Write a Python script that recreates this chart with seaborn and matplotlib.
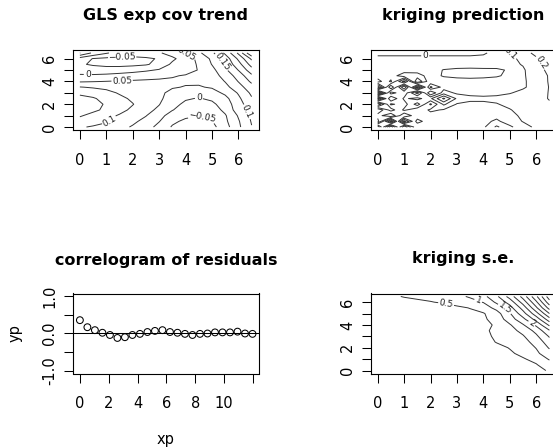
import numpy as np
import matplotlib
matplotlib.use("Agg")
import matplotlib.pyplot as plt
import seaborn as sns
import pandas as pd

# ---------------- data ----------------
grid = [0, 0.5, 1, 1.5, 2, 2.5, 3, 3.5, 4, 4.5, 5, 5.5, 6, 6.5]

# GLS exp cov trend surface, rows = y (0 .. 6.5), cols = x (0 .. 6.5)
gls_trend = [
    [0.105, 0.095, 0.085, 0.065, 0.045, 0.02, -0.015, -0.055, -0.075, -0.08, -0.065, -0.02, 0.04, 0.098],
    [0.13, 0.12, 0.105, 0.085, 0.06, 0.035, 0.002, -0.04, -0.06, -0.065, -0.052, -0.01, 0.045, 0.104],
    [0.155, 0.135, 0.115, 0.095, 0.075, 0.052, 0.015, -0.02, -0.04, -0.048, -0.04, -0.005, 0.055, 0.11],
    [0.17, 0.16, 0.14, 0.115, 0.09, 0.065, 0.04, 0.002, -0.02, -0.03, -0.025, 0.012, 0.075, 0.12],
    [0.175, 0.165, 0.145, 0.12, 0.102, 0.075, 0.052, 0.015, -0.01, -0.015, -0.01, 0.022, 0.08, 0.13],
    [0.165, 0.155, 0.135, 0.112, 0.092, 0.075, 0.058, 0.03, 0.005, -0.003, 0.008, 0.035, 0.09, 0.145],
    [0.14, 0.13, 0.115, 0.095, 0.08, 0.068, 0.058, 0.04, 0.025, 0.02, 0.03, 0.06, 0.105, 0.16],
    [0.102, 0.095, 0.088, 0.08, 0.072, 0.065, 0.058, 0.053, 0.048, 0.046, 0.055, 0.085, 0.13, 0.18],
    [0.045, 0.048, 0.051, 0.054, 0.056, 0.057, 0.057, 0.056, 0.055, 0.058, 0.068, 0.102, 0.152, 0.21],
    [0.008, 0.008, 0.012, 0.018, 0.025, 0.033, 0.04, 0.047, 0.053, 0.06, 0.075, 0.12, 0.17, 0.24],
    [-0.025, -0.03, -0.03, -0.025, -0.018, -0.008, 0.005, 0.02, 0.035, 0.052, 0.085, 0.14, 0.202, 0.28],
    [-0.045, -0.055, -0.062, -0.065, -0.062, -0.055, -0.035, 0.01, 0.03, 0.055, 0.102, 0.16, 0.23, 0.32],
    [-0.025, -0.052, -0.06, -0.065, -0.065, -0.06, -0.045, -0.01, 0.025, 0.062, 0.11, 0.17, 0.26, 0.36],
    [0.102, 0.04, 0.005, -0.02, -0.02, -0.01, -0.005, 0.02, 0.052, 0.09, 0.14, 0.21, 0.31, 0.45],
]

# kriging prediction surface
krig_pred = [
    [-0.40, 0.30, -0.30, 0.10, 0.05, 0.06, 0.05, 0.04, 0.02, -0.12, -0.02, 0.06, 0.12, 0.17],
    [0.15, -0.45, 0.35, -0.05, 0.08, 0.07, 0.05, 0.04, 0.03, -0.02, 0.05, 0.105, 0.14, 0.18],
    [0.05, 0.20, -0.10, 0.08, 0.06, 0.08, 0.05, 0.04, 0.04, 0.03, 0.07, 0.12, 0.15, 0.18],
    [0.20, -0.05, 0.12, 0.02, 0.12, 0.09, 0.05, 0.04, 0.05, 0.07, 0.095, 0.13, 0.15, 0.18],
    [-0.30, 0.12, 0.05, 0.25, -0.02, 0.22, 0.09, 0.07, 0.08, 0.095, 0.12, 0.14, 0.16, 0.19],
    [0.45, -0.10, 0.12, 0.06, 0.18, 0.42, 0.18, 0.13, 0.12, 0.12, 0.13, 0.14, 0.17, 0.205],
    [-0.48, 0.15, 0.02, 0.35, -0.10, 0.15, 0.08, 0.07, 0.07, 0.08, 0.095, 0.12, 0.16, 0.205],
    [0.40, -0.20, 0.30, -0.35, 0.22, 0.06, 0.05, 0.05, 0.05, 0.06, 0.07, 0.09, 0.13, 0.205],
    [-0.05, 0.12, -0.25, 0.30, 0.02, 0.05, 0.05, 0.05, 0.05, 0.06, 0.07, 0.09, 0.13, 0.21],
    [0.06, 0.05, 0.16, 0.14, 0.06, 0.11, 0.13, 0.14, 0.13, 0.11, 0.08, 0.09, 0.14, 0.21],
    [0.04, 0.04, 0.05, 0.06, 0.06, 0.105, 0.12, 0.125, 0.12, 0.115, 0.09, 0.09, 0.15, 0.23],
    [0.03, 0.03, 0.04, 0.04, 0.05, 0.05, 0.05, 0.05, 0.05, 0.06, 0.08, 0.105, 0.16, 0.24],
    [0.03, 0.03, 0.03, 0.03, 0.03, 0.03, 0.03, 0.03, 0.04, 0.06, 0.08, 0.12, 0.19, 0.26],
    [-0.03, -0.03, -0.03, -0.03, -0.03, -0.03, -0.03, -0.03, -0.02, 0.05, 0.095, 0.17, 0.22, 0.28],
]

# kriging standard error surface
krig_se = [
    [0.25, 0.22, 0.2, 0.2, 0.2, 0.22, 0.22, 0.22, 0.24, 0.26, 0.3, 0.34, 0.42, 0.53],
    [0.22, 0.2, 0.18, 0.18, 0.18, 0.2, 0.2, 0.22, 0.24, 0.27, 0.32, 0.38, 0.47, 0.75],
    [0.2, 0.18, 0.16, 0.15, 0.15, 0.16, 0.17, 0.2, 0.24, 0.3, 0.38, 0.46, 0.62, 1.05],
    [0.18, 0.16, 0.15, 0.14, 0.14, 0.15, 0.16, 0.2, 0.26, 0.34, 0.44, 0.6, 0.9, 1.3],
    [0.17, 0.15, 0.14, 0.13, 0.13, 0.14, 0.16, 0.2, 0.28, 0.38, 0.52, 0.72, 1.02, 1.55],
    [0.16, 0.14, 0.13, 0.12, 0.13, 0.14, 0.17, 0.22, 0.34, 0.52, 0.66, 0.85, 1.15, 1.8],
    [0.16, 0.14, 0.13, 0.13, 0.13, 0.15, 0.18, 0.25, 0.42, 0.55, 0.72, 0.95, 1.4, 2.05],
    [0.17, 0.15, 0.14, 0.14, 0.14, 0.16, 0.2, 0.28, 0.42, 0.6, 0.82, 1.15, 1.65, 2.45],
    [0.18, 0.16, 0.15, 0.15, 0.16, 0.18, 0.22, 0.3, 0.4, 0.55, 0.95, 1.45, 2.1, 3.1],
    [0.2, 0.18, 0.17, 0.17, 0.18, 0.2, 0.25, 0.33, 0.42, 0.7, 1.25, 1.85, 2.7, 3.8],
    [0.22, 0.2, 0.19, 0.2, 0.21, 0.24, 0.3, 0.38, 0.46, 0.8, 1.45, 2.3, 3.3, 4.5],
    [0.25, 0.23, 0.23, 0.25, 0.28, 0.32, 0.4, 0.52, 0.75, 1.15, 1.8, 2.7, 3.9, 5.2],
    [0.3, 0.32, 0.38, 0.43, 0.48, 0.55, 0.7, 0.85, 1.02, 1.6, 2.2, 3.2, 4.4, 5.8],
    [0.38, 0.44, 0.52, 0.57, 0.62, 0.75, 0.9, 1.05, 1.35, 1.9, 2.7, 3.7, 4.9, 6.3],
]

# correlogram of residuals
xp = [0.0, 0.52, 1.04, 1.56, 2.08, 2.6, 3.12, 3.64, 4.16, 4.68, 5.2, 5.72,
      6.24, 6.76, 7.28, 7.8, 8.32, 8.84, 9.36, 9.88, 10.4, 10.92, 11.44, 11.96]
yp = [0.36, 0.17, 0.09, 0.02, -0.04, -0.12, -0.1, -0.04, -0.01, 0.04, 0.07, 0.09,
      0.04, 0.02, -0.01, -0.04, -0.01, 0.0, 0.03, 0.03, 0.03, 0.05, 0.0, -0.01]

gls_levels = [-0.05, 0, 0.05, 0.1, 0.15, 0.2, 0.25, 0.3, 0.35, 0.4]
pred_levels = [-0.5, -0.4, -0.3, -0.2, -0.1, 0, 0.1, 0.2, 0.3, 0.4]
se_levels = [0.5, 1, 1.5, 2, 2.5, 3, 3.5, 4, 4.5, 5, 5.5, 6]

titles = ["GLS exp cov trend", "kriging prediction", "correlogram of residuals", "kriging s.e."]

# ---------------- styling ----------------
sns.set_theme(style="ticks")
plt.rcParams['font.family'] = ['DejaVu Sans']
plt.rcParams['axes.unicode_minus'] = False
plt.rcParams['contour.negative_linestyle'] = 'solid'
for k in ('text.color', 'axes.labelcolor', 'xtick.color', 'ytick.color', 'axes.edgecolor'):
    plt.rcParams[k] = 'black'

W, H = 553, 448
fig = plt.figure(figsize=(W / 100, H / 100), dpi=100)
fig.patch.set_facecolor('white')


def add_ax(left, top, w, h):
    return fig.add_axes([left / W, 1 - (top + h) / H, w / W, h / H])


LINE = '#333333'
TICK_FS = 10.5
TITLE_FS = 11.5
LAB_FS = 6.5


def fmt(v):
    s = f"{v:.2f}".rstrip('0').rstrip('.')
    if s in ('-0', ''):
        s = '0'
    return s.replace('-', '\u2212')


def style(ax, xt, xl, yt, yl, title, tpad=21.6):
    for s in ax.spines.values():
        s.set_linewidth(0.8)
        s.set_color('black')
    ax.set_xticks(xt)
    ax.set_xticklabels(xl)
    ax.set_yticks(yt)
    ax.set_yticklabels(yl, rotation=90, va='center')
    ax.tick_params(direction='out', length=6.3, width=0.75, labelsize=TICK_FS,
                   colors='black')
    ax.tick_params(axis='x', pad=10.2)
    ax.tick_params(axis='y', pad=5.0)
    ax.set_title(title, fontsize=TITLE_FS, fontweight='bold', pad=tpad, color='black')
    ax.set_facecolor('white')


X, Y = np.meshgrid(np.array(grid), np.array(grid))
lim = (-0.26, 6.76)
xt6 = [0, 1, 2, 3, 4, 5, 6]
xl6 = ['0', '1', '2', '3', '4', '5', '6']
yl6 = ['0', '', '2', '', '4', '', '6']


def contour_panel(ax, Z, levels, label_spots, title):
    cs = ax.contour(X, Y, np.array(Z), levels=levels, colors=LINE, linewidths=0.7)
    ax.clabel(cs, fmt=fmt, fontsize=LAB_FS, inline=True,
              inline_spacing=1.5, colors='#222222', manual=label_spots)
    ax.set_xlim(*lim)
    ax.set_ylim(*lim)
    style(ax, xt6, xl6, xt6, yl6, title)


ax1 = add_ax(73, 50, 185.5, 80)
contour_panel(ax1, gls_trend, gls_levels,
              [(1.6, 6.0), (0.3, 4.65), (1.6, 4.0), (1.2, 0.3), (4.5, 2.5),
               (4.6, 0.7), (4.0, 6.35), (5.35, 5.7), (6.3, 1.3)], titles[0])

ax2 = add_ax(370.8, 50, 185.5, 80)
contour_panel(ax2, krig_pred, pred_levels,
              [(1.8, 6.3), (4.9, 6.2), (6.0, 5.3)], titles[1])

ax4 = add_ax(370.8, 293.5, 185.5, 80)
contour_panel(ax4, krig_se, se_levels,
              [(2.6, 5.95), (3.8, 6.1), (4.8, 5.4), (5.85, 4.2)], titles[3])

# correlogram
ax3 = add_ax(73, 293.5, 186, 80)
df = pd.DataFrame({'xp': xp, 'yp': yp})
ax3.axhline(0, color='black', lw=0.75, zorder=1)
sns.scatterplot(data=df, x='xp', y='yp', ax=ax3, marker='o', s=24,
                facecolor='none', edgecolor='black', linewidth=0.75, zorder=3)
ax3.set_xlim(-0.477, 12.41)
ax3.set_ylim(-1.08, 1.08)
style(ax3, [0, 2, 4, 6, 8, 10, 12], ['0', '2', '4', '6', '8', '10', ''],
      [-1, -0.5, 0, 0.5, 1], ['-1.0', '', '0.0', '', '1.0'], titles[2], tpad=20.5)
ax3.set_xlabel('xp', fontsize=TICK_FS)
ax3.set_ylabel('yp', fontsize=TICK_FS)
ax3.xaxis.set_label_coords(0.5, -0.735)
ax3.yaxis.set_label_coords(-0.27, 0.5)

fig.savefig('out.png', dpi=100)
